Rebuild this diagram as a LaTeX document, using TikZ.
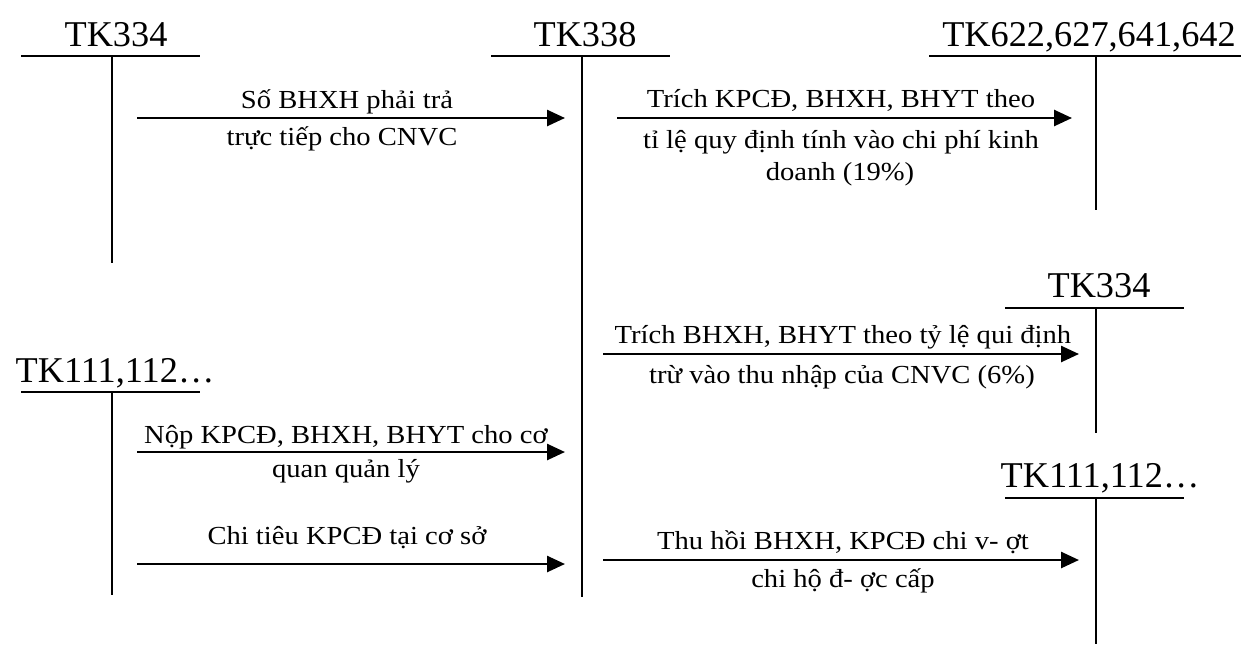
\documentclass[tikz,border=0pt]{standalone}
\usepackage{fontspec}
\setmainfont{Liberation Serif}
\newfontfamily\labfont[FakeStretch=1.1]{Liberation Serif}
\usetikzlibrary{arrows.meta}
\tikzset{
  ttl/.style={inner sep=0pt, anchor=base, font=\fontsize{18.15}{20}\selectfont},
  lab/.style={inner sep=0pt, anchor=base, font=\labfont\fontsize{13}{15}\selectfont},
  tbar/.style={line width=1.35pt},
  tstem/.style={line width=1pt},
  flow/.style={line width=1.3pt, -{Triangle[length=9pt,width=8pt]}}
}
\begin{document}
\begin{tikzpicture}[x=0.5pt,y=-0.5pt]
\useasboundingbox (0,0) rectangle (1241,644);

% ---- account titles
\node[ttl] (t1) at (116,46) {TK334};
\node[ttl] (t2) at (585,46) {TK338};
\node[ttl] (t3) at (1089,46) {TK622,627,641,642};
\node[ttl] (t4) at (1099,297) {TK334};
\node[ttl] (t5) at (115,382) {TK111,112…};
\node[ttl] (t6) at (1100,487) {TK111,112…};

% ---- T-account coordinates
\coordinate (a1l) at (21,56);   \coordinate (a1r) at (200,56);
\coordinate (a1t) at (111.5,56); \coordinate (a1b) at (111.5,263);
\coordinate (a2l) at (491,56);  \coordinate (a2r) at (670,56);
\coordinate (a2t) at (582,56);  \coordinate (a2b) at (582,597);
\coordinate (a3l) at (929,56);  \coordinate (a3r) at (1241,56);
\coordinate (a3t) at (1095.5,56); \coordinate (a3b) at (1095.5,210);
\coordinate (a4l) at (1005,308); \coordinate (a4r) at (1184,308);
\coordinate (a4t) at (1096,308); \coordinate (a4b) at (1096,433);
\coordinate (a5l) at (21,392);  \coordinate (a5r) at (200,392);
\coordinate (a5t) at (111.5,392); \coordinate (a5b) at (111.5,595);
\coordinate (a6l) at (1005,498); \coordinate (a6r) at (1184,498);
\coordinate (a6t) at (1096,498); \coordinate (a6b) at (1096,644);

\foreach \k in {1,...,6}{
  \draw[tbar] (a\k l) -- (a\k r);
  \draw[tstem] (a\k t) -- (a\k b);
}

% ---- arrow coordinates
\coordinate (r1s) at (137,118); \coordinate (r1e) at (565,118);
\coordinate (r2s) at (617,118); \coordinate (r2e) at (1072,118);
\coordinate (r3s) at (603,354); \coordinate (r3e) at (1079,354);
\coordinate (r4s) at (137,452); \coordinate (r4e) at (565,452);
\coordinate (r5s) at (137,564); \coordinate (r5e) at (565,564);
\coordinate (r6s) at (603,560); \coordinate (r6e) at (1079,560);

\foreach \k in {1,...,6}{
  \draw[flow] (r\k s) -- (r\k e);
}

% ---- arrow labels
\node[lab] (l1a) at (347,108) {Số BHXH phải trả};
\node[lab] (l1b) at (342,145) {trực tiếp cho CNVC};

\node[lab] (l2a) at (841,107) {Trích KPCĐ, BHXH, BHYT theo};
\node[lab] (l2b) at (841,148) {tỉ lệ quy định tính vào chi phí kinh};
\node[lab] (l2c) at (840,180) {doanh (19\%)};

\node[lab] (l3a) at (843,343) {Trích BHXH, BHYT theo tỷ lệ qui định};
\node[lab] (l3b) at (842,383) {trừ vào thu nhập của CNVC (6\%)};

\node[lab] (l4a) at (346,443) {Nộp KPCĐ, BHXH, BHYT cho cơ};
\node[lab] (l4b) at (346,477) {quan quản lý};

\node[lab] (l5a) at (347,544) {Chi tiêu KPCĐ tại cơ sở};

\node[lab] (l6a) at (843,549) {Thu hồi BHXH, KPCĐ chi v- ợt};
\node[lab] (l6b) at (843,587) {chi hộ đ- ợc cấp};
\end{tikzpicture}
\end{document}
